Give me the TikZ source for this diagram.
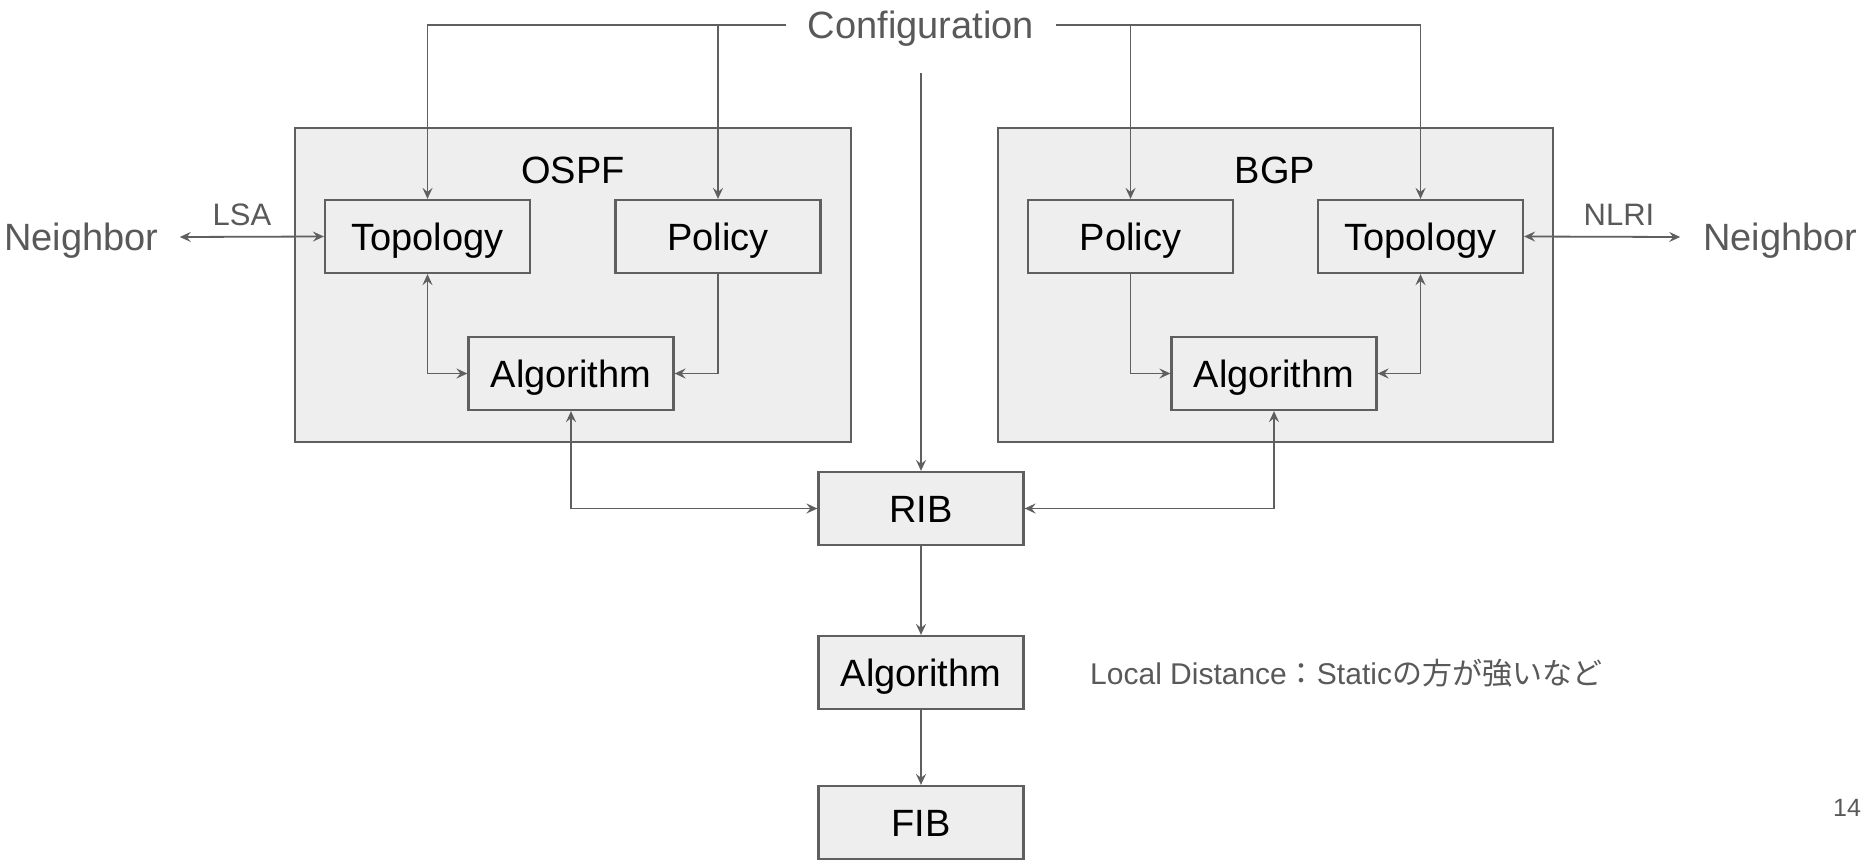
\documentclass[tikz,border=0pt]{standalone}
\usepackage{fontspec}
\setmainfont{Liberation Sans}
\newfontfamily\cjk{Noto Sans CJK JP}
\usetikzlibrary{arrows.meta}
\definecolor{lgray}{HTML}{5F5F5F}
\definecolor{tgray}{HTML}{595959}
\definecolor{boxfill}{HTML}{EEEEEE}
\tikzset{
  capc/.style={text height=#1, text depth=0pt},
  box/.style={draw=lgray, line width=2.2pt, fill=boxfill, minimum width=205pt, minimum height=73pt, inner sep=0pt, font=\fontsize{38}{40}\selectfont, text=black, capc=27.2pt},
  group/.style={draw=lgray, line width=2.2pt, fill=boxfill},
  conn/.style={draw=lgray, line width=1.8pt},
  arr/.style={conn, -{Stealth[length=11pt,width=10pt,inset=4pt]}},
  arrb/.style={conn, {Stealth[length=11pt,width=10pt,inset=4pt]}-{Stealth[length=11pt,width=10pt,inset=4pt]}},
  bigtxt/.style={font=\fontsize{38}{40}\selectfont, text=tgray, inner sep=0pt, capc=27.2pt},
  smalltxt/.style={font=\fontsize{31}{33}\selectfont, text=tgray, inner sep=0pt, capc=22.2pt},
  titletxt/.style={font=\fontsize{38}{40}\selectfont, text=black, inner sep=0pt, capc=27.2pt}
}
\begin{document}
\begin{tikzpicture}[x=1pt,y=-1pt]
\useasboundingbox (0,0) rectangle (1862,859);
% group boxes
\draw[group] (295,128) rectangle (851,442);
\draw[group] (998,128) rectangle (1553,442);
\node[titletxt] (ospf) at (573,170) {OSPF};
\node[titletxt] (bgp) at (1275,170) {BGP};
% nodes
\node[box] (topo1) at (427.5,236.5) {Topology};
\node[box] (pol1) at (718,236.5) {Policy};
\node[box] (alg1) at (571,373.5) {Algorithm};
\node[box] (pol2) at (1130.5,236.5) {Policy};
\node[box] (topo2) at (1420.5,236.5) {Topology};
\node[box] (alg2) at (1274,373.5) {Algorithm};
\node[box] (rib) at (921,508.5) {RIB};
\node[box] (algc) at (921,672.5) {Algorithm};
\node[box] (fib) at (921,822.5) {FIB};
% texts
\node[bigtxt, inner xsep=22pt] (cfg) at (921,25) {Configuration};
\coordinate (cfgdown) at (921,73);
\node[bigtxt, inner xsep=21pt] (nbl) at (81.5,237) {Neighbor};
\node[bigtxt, inner xsep=23pt] (nbr) at (1780.5,237) {Neighbor};
\node[smalltxt] (lsa) at (242,214) {LSA};
\node[smalltxt] (nlri) at (1619,214) {NLRI};
\node[smalltxt, anchor=west, font=\fontsize{30}{32}\selectfont, capc=21.5pt] (note) at (1090,674) {Local Distance{\cjk ：}Static{\cjk の方が強いなど}};
\node[font=\fontsize{25}{27}\selectfont, text=tgray, inner sep=0pt, capc=17.9pt] (pg) at (1847,808) {14};
% connectors
\draw[arr] (cfg.west) -| (topo1.north);
\draw[arr] (pol1.north |- cfg.west) -- (pol1.north);
\draw[arr] (cfg.east) -| (topo2.north);
\draw[arr] (pol2.north |- cfg.east) -- (pol2.north);
\draw[arr] (cfgdown) -- (rib.north);
\draw[arrb] (nbl.east) -- (topo1.west);
\draw[arrb] (topo2.east) -- (nbr.west);
\draw[arrb] (topo1.south) |- (alg1.west);
\draw[arr] (pol1.south) |- (alg1.east);
\draw[arr] (pol2.south) |- (alg2.west);
\draw[arrb] (topo2.south) |- (alg2.east);
\draw[arrb] (alg1.south) |- (rib.west);
\draw[arrb] (alg2.south) |- (rib.east);
\draw[arr] (rib.south) -- (algc.north);
\draw[arr] (algc.south) -- (fib.north);
\end{tikzpicture}
\end{document}
